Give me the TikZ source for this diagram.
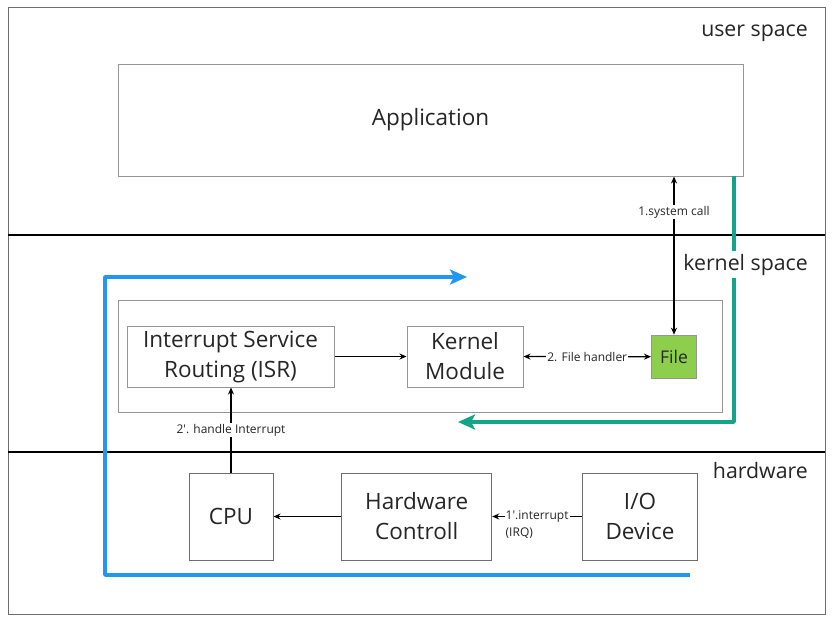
\documentclass[tikz,border=0pt]{standalone}
\usepackage{fontspec}
\setmainfont{Open Sans}
\usetikzlibrary{arrows.meta,positioning,calc}
\definecolor{flowgreen}{RGB}{18,165,138}
\definecolor{flowblue}{RGB}{33,150,243}
\definecolor{filegreen}{RGB}{141,207,76}
\definecolor{boxgray}{RGB}{150,150,150}
\definecolor{framegray}{RGB}{110,110,110}

\begin{document}
\begin{tikzpicture}[x=1pt,y=-1pt,
  box/.style={draw=boxgray,line width=1pt,align=center,inner sep=0pt,
    font=\fontsize{22.5}{30}\selectfont,text=black!85},
  zone/.style={font=\fontsize{21.3}{25}\selectfont,fill=white,inner sep=3pt,anchor=base east,text=black!85},
  lbl/.style={font=\fontsize{12}{17}\selectfont,fill=white,inner sep=1pt,text=black!85},
  arr/.style={-{Stealth[length=7pt,width=6pt]},line width=1.2pt},
  arrs/.style={{Stealth[length=7pt,width=6pt]}-{Stealth[length=7pt,width=6pt]},line width=1.2pt},
  flow/.style={line width=3.5pt,line join=round,-{Stealth[length=17pt,width=15pt,inset=4pt]}}]
\useasboundingbox (0,0) rectangle (834,621);
% frame and the three layers
\draw[framegray,line width=1pt,fill=white] (8,7) rectangle (825,614);
\draw[line width=1.2pt] (8,235) -- (825,235);
\draw[line width=1.2pt] (8,452) -- (825,452);
% boxes
\node[box,minimum width=625pt,minimum height=112pt] (app) at (430.5,120) {Application};
\node[box,minimum width=604pt,minimum height=112pt] (kern) at (420,356) {};
\node[box,minimum width=207pt,minimum height=61pt] (isr) at (230.5,356.5) {Interrupt Service\\Routing (ISR)};
\node[box,minimum width=116pt,minimum height=61pt] (kmod) at (465,356.5) {Kernel\\Module};
\node[box,fill=filegreen,font=\fontsize{17.5}{20}\selectfont,minimum width=45pt,minimum height=43pt] (file) at (674,356.7) {File};
\node[box,draw=framegray,minimum width=84pt,minimum height=87pt] (cpu) at (231,516.5) {CPU};
\node[box,draw=framegray,minimum width=150pt,minimum height=87pt] (hc) at (416.7,516.5) {Hardware\\Controll};
\node[box,draw=framegray,minimum width=115pt,minimum height=87pt] (io) at (640,516.5) {I/O\\Device};
% flows
\coordinate (gstart) at (734,176);
\coordinate (gend) at (458,422);
\coordinate (bstart) at (690,575);
\coordinate (bend) at (467,277);
\draw[flow,flowgreen] (gstart) |- (gend);
\draw[flow,flowblue] (bstart) -| (105,277) -- (bend);
\node[zone] (user) at (811,36) {user space};
\node[zone] (kspace) at (811,270) {kernel space};
\node[zone] (hw) at (811,478) {hardware};
% connectors
\draw[arrs] (file.north) -- node[lbl,pos=0.774] {1.system call} (file.north |- app.south);
\draw[arr] (isr) -- (kmod);
\draw[arrs] (kmod) -- node[lbl] {2. File handler} (file);
\draw[arr] (cpu.north) -- node[lbl] {2\textquotesingle. handle Interrupt} (cpu.north |- isr.south);
\draw[arr] (hc) -- (cpu);
\draw[arr] (io) -- node[lbl,align=left,yshift=-8.5pt] {1\textquotesingle.interrupt\\(IRQ)} (hc);
\end{tikzpicture}
\end{document}
